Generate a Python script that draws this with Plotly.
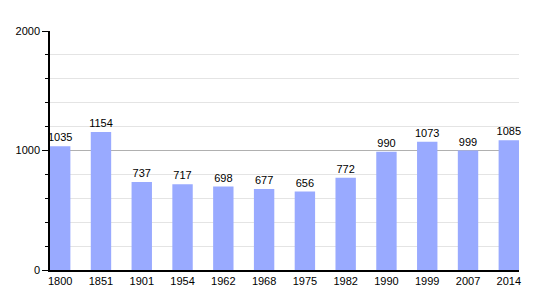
import plotly.graph_objects as go

years = ["1800", "1851", "1901", "1954", "1962", "1968", "1975", "1982", "1990", "1999", "2007", "2014"]
population = [1035, 1154, 737, 717, 698, 677, 656, 772, 990, 1073, 999, 1085]

fig = go.Figure()
fig.add_trace(go.Bar(
    x=list(range(len(years))),
    y=population,
    width=0.5,
    marker=dict(color="#99aaff", line=dict(width=0)),
    text=[str(v) for v in population],
    textposition="outside",
    constraintext="none",
    textfont=dict(family="Liberation Sans, Arial, sans-serif", size=11, color="black"),
    cliponaxis=False,
))

fig.update_layout(
    width=550, height=300,
    margin=dict(l=50, r=31, t=31, b=30),
    paper_bgcolor="white", plot_bgcolor="white",
    showlegend=False,
    font=dict(family="Liberation Sans, Arial, sans-serif", size=11, color="black"),
    bargap=0.5,
)
fig.update_xaxes(
    range=[-0.25, 11.25],
    tickmode="array", tickvals=list(range(len(years))), ticktext=years,
    showgrid=False, showline=True, linecolor="black", linewidth=1.5,
    ticks="", zeroline=False,
)
fig.update_yaxes(
    range=[0, 2000],
    tickmode="array", tickvals=[0, 1000, 2000],
    showgrid=True, gridcolor="#b0b0b0", gridwidth=1,
    showline=True, linecolor="black", linewidth=1.5,
    ticks="outside", ticklen=6, tickcolor="black", tickwidth=1,
    zeroline=False,
    minor=dict(dtick=200, showgrid=True, gridcolor="#e4e4e4", gridwidth=1,
               ticks="outside", ticklen=3, tickcolor="black"),
)

fig.write_html("out.html")
